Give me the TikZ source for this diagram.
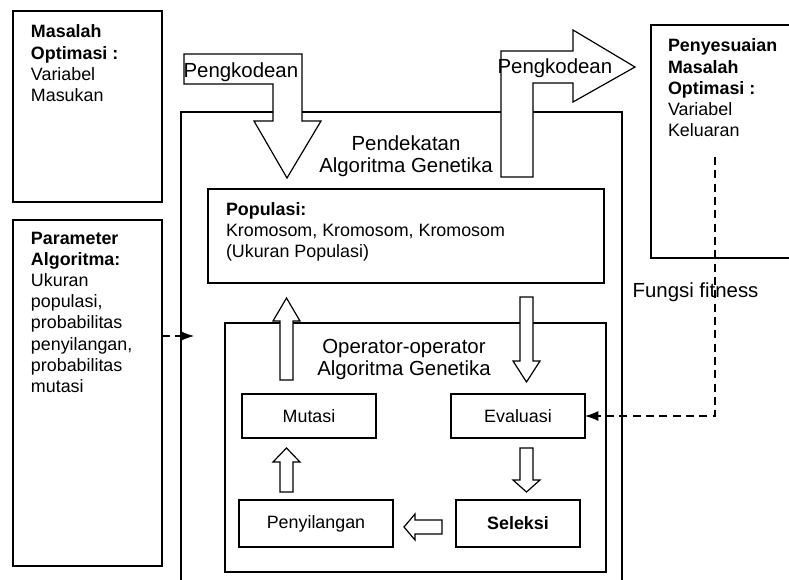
\documentclass[tikz,border=0pt]{standalone}
\usepackage{fontspec}
\setmainfont{Liberation Sans}
\usetikzlibrary{arrows.meta}
\begin{document}
\begin{tikzpicture}[x=0.75pt,y=-0.75pt,line width=0.9pt,
  boxfont/.style={font=\fontsize{13.4}{15.8}\selectfont},
  bigfont/.style={font=\fontsize{15.3}{16.8}\selectfont},
  rbox/.style={draw,line width=0.9pt,inner sep=0pt,outer sep=0pt,boxfont},
  txt/.style={inner sep=0pt,outer sep=0pt,align=left,boxfont},
  blk/.style={draw,fill=white,line width=0.9pt,line join=miter},
  dashline/.style={line width=0.9pt,dash pattern=on 6pt off 4pt},
  tip/.style={-{Latex[length=10pt,width=7.5pt]}}]
\useasboundingbox (0,0) rectangle (789,579);
\clip (0,0) rectangle (789,579);

% left boxes
\node[rbox,minimum width=111.75pt,minimum height=143.25pt] (masalah) at (87.5,106.5) {};
\node[txt,anchor=north west] (masalahT) at (31,25) {\textbf{Masalah}\\\textbf{Optimasi :}\\Variabel\\Masukan};
\node[rbox,minimum width=111.75pt,minimum height=259.5pt] (param) at (87.5,393) {};
\node[txt,anchor=north west] (paramT) at (31,232.4) {\textbf{Parameter}\\\textbf{Algoritma:}\\Ukuran\\populasi,\\probabilitas\\penyilangan,\\probabilitas\\mutasi};

% right box
\node[rbox,minimum width=111.75pt,minimum height=174.75pt] (hasil) at (725.5,141.5) {};
\node[txt,anchor=north west] (hasilT) at (668,39) {\textbf{Penyesuaian}\\\textbf{Masalah}\\\textbf{Optimasi :}\\Variabel\\Keluaran};

% outer box
\node[rbox,minimum width=330.75pt,minimum height=366pt] (outer) at (401.5,356) {};

% big bent arrows
\draw[blk] (184,54) -- (302,54) -- (302,121) -- (321,121) -- (287,178) -- (254,121) -- (273,121) -- (273,84) -- (184,84) -- cycle;
\draw[blk] (501,177) -- (501,51) -- (573,51) -- (573,30) -- (635,67) -- (573,102) -- (573,83) -- (533,83) -- (533,177) -- cycle;
\node[bigfont,inner sep=0pt,anchor=base west] (kode1) at (183,77) {Pengkodean};
\node[bigfont,inner sep=0pt,anchor=base west] (kode2) at (497,73) {Pengkodean};

\node[bigfont,inner sep=0pt,align=center,anchor=north] (pendT) at (406,135.2) {Pendekatan\\Algoritma Genetika};

% populasi
\node[rbox,minimum width=297pt,minimum height=70.5pt] (pop) at (406,236) {};
\node[txt,anchor=north west] (popT) at (226,202.2) {\textbf{Populasi:}\\Kromosom, Kromosom, Kromosom\\(Ukuran Populasi)};

% operators
\node[rbox,minimum width=285.75pt,minimum height=186.75pt] (ops) at (415.5,447.5) {};
\node[bigfont,inner sep=0pt,align=center,anchor=north] (opsT) at (404,338.2) {Operator-operator\\Algoritma Genetika};

\node[rbox,minimum width=100.5pt,minimum height=33pt] (mutasi) at (309,416) {Mutasi};
\node[rbox,minimum width=100.5pt,minimum height=33pt] (eval) at (518,416) {Evaluasi};
\node[rbox,minimum width=115.5pt,minimum height=35.25pt] (silang) at (316,523.5) {Penyilangan};
\node[rbox,minimum width=93pt,minimum height=35.25pt,font=\fontsize{13.4}{15.8}\selectfont\bfseries] (seleksi) at (518,523.5) {Seleksi};

% block arrows
\draw[blk] (280,380) -- (280,321) -- (273,321) -- (286.5,298) -- (300,321) -- (293,321) -- (293,380) -- cycle;
\draw[blk] (520,297) -- (533,297) -- (533,361) -- (540,361) -- (526.5,382) -- (513,361) -- (520,361) -- cycle;
\draw[blk] (520,448) -- (533,448) -- (533,480) -- (540,480) -- (526.5,492) -- (513,480) -- (520,480) -- cycle;
\draw[blk] (442,520) -- (442,534) -- (415,534) -- (415,540) -- (404,527) -- (415,514) -- (415,520) -- cycle;
\draw[blk] (280,492) -- (280,462) -- (273,462) -- (286.5,448) -- (300,462) -- (293,462) -- (293,492) -- cycle;

% fitness
\node[bigfont,inner sep=0pt,anchor=base west] (fitT) at (632,297) {Fungsi fitness};
\coordinate (fitTop) at (715,157);
\draw[dashline,tip] (fitTop) |- (eval.east);

% parameter arrow
\coordinate (pin) at (194,336);
\draw[dashline,tip] (param.east |- pin) -- (pin);
\end{tikzpicture}
\end{document}
